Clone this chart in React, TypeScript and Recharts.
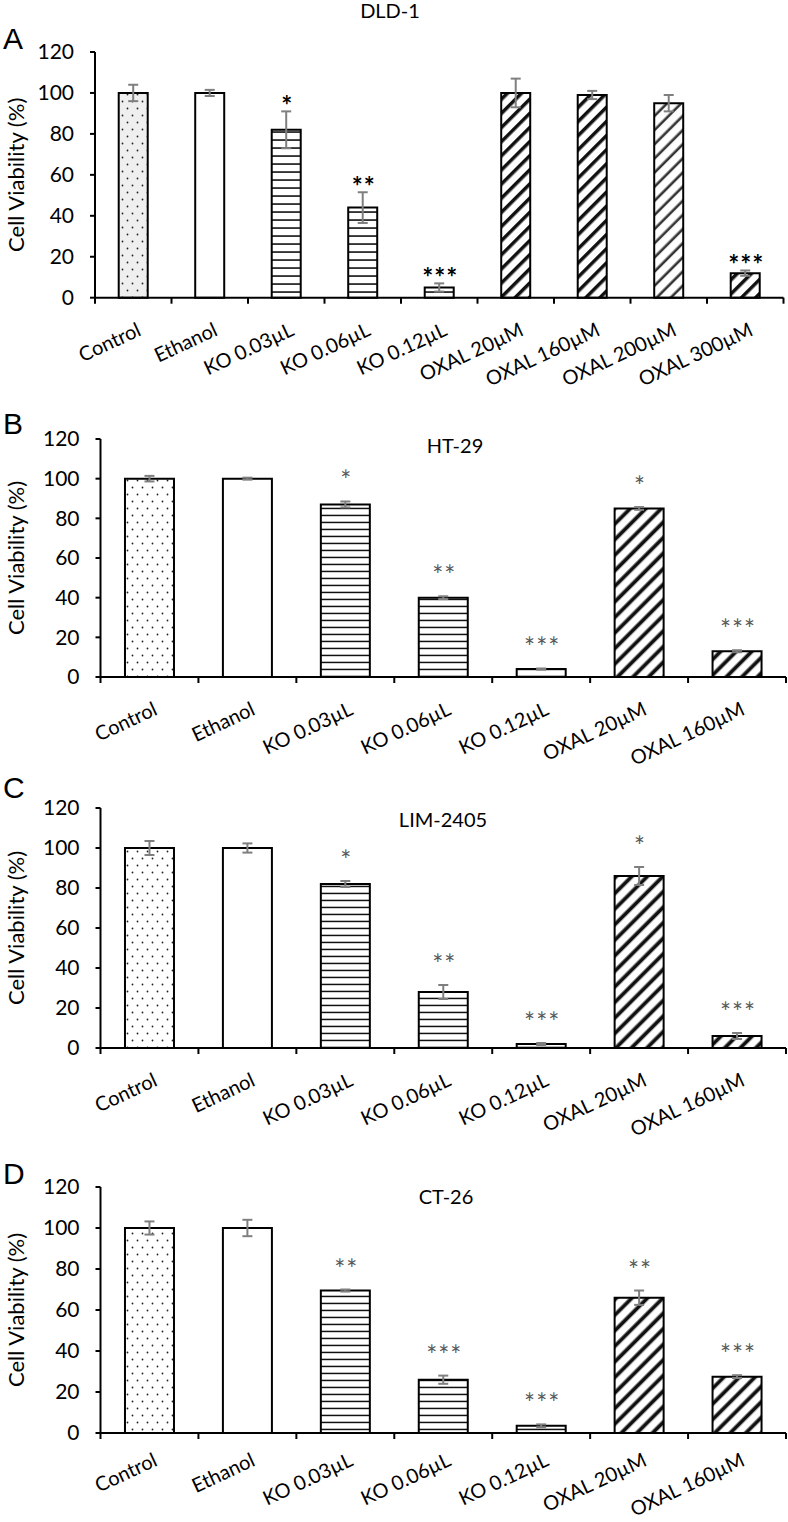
import React from 'react';
import { BarChart, Bar, XAxis, YAxis, ErrorBar, Cell, LabelList } from 'recharts';

const labelsA = ['Control', 'Ethanol', 'KO 0.03µL', 'KO 0.06µL', 'KO 0.12µL', 'OXAL 20µM', 'OXAL 160µM', 'OXAL 200µM', 'OXAL 300µM'];
const labels = ['Control', 'Ethanol', 'KO 0.03µL', 'KO 0.06µL', 'KO 0.12µL', 'OXAL 20µM', 'OXAL 160µM'];
const yTicks = [0, 20, 40, 60, 80, 100, 120];

// DLD-1
const dldValues = [100, 100, 82, 44, 5, 100, 99, 95, 12];
const dldErrors = [4, 1.5, 9, 7.5, 2, 7, 2, 4, 1.3];
const dldSig = ['', '', '*', '**', '***', '', '', '', '***'];

// HT-29
const htValues = [100, 100, 87, 40, 4, 85, 13];
const htErrors = [1.4, 0.5, 1.5, 0.7, 0.3, 0.7, 0.5];
const htSig = ['', '', '*', '**', '***', '*', '***'];

// LIM-2405
const limValues = [100, 100, 82, 28, 2, 86, 6];
const limErrors = [3.5, 2.3, 1.5, 3.5, 0.5, 4.5, 1.5];
const limSig = ['', '', '*', '**', '***', '*', '***'];

// CT-26
const ctValues = [100, 100, 69.5, 26, 3.5, 66, 27.5];
const ctErrors = [3.2, 4, 0.5, 2, 0.7, 3.5, 0.7];
const ctSig = ['', '', '**', '***', '***', '**', '***'];

const fillsA = ['dotsGray', 'plain', 'hlinesA', 'hlinesA', 'hlinesA', 'diagA', 'diagA', 'diagLight', 'diagA'];
const fills = ['dots', 'plain', 'hlines', 'hlines', 'hlines', 'diag', 'diag'];

const FONT = 'Lato, "Open Sans", sans-serif';
const W = 788;

const Patterns = () => (
  <svg width={0} height={0} style={{ position: 'absolute' }}>
    <defs>
      <pattern id="dots" width={10} height={14} patternUnits="userSpaceOnUse">
        <rect width={10} height={14} fill="#fff" />
        <circle cx={2.5} cy={3.5} r={0.9} fill="#222" />
        <circle cx={7.5} cy={10.5} r={0.9} fill="#222" />
      </pattern>
      <pattern id="dotsGray" width={10} height={14} patternUnits="userSpaceOnUse">
        <rect width={10} height={14} fill="#efefef" />
        <circle cx={2.5} cy={3.5} r={0.9} fill="#222" />
        <circle cx={7.5} cy={10.5} r={0.9} fill="#222" />
      </pattern>
      <pattern id="hlinesA" width={8} height={8} patternUnits="userSpaceOnUse">
        <rect width={8} height={8} fill="#fff" />
        <rect y={3.25} width={8} height={1.6} fill="#111" />
      </pattern>
      <pattern id="hlines" width={7} height={7} patternUnits="userSpaceOnUse">
        <rect width={7} height={7} fill="#fff" />
        <rect y={2.7} width={7} height={1.5} fill="#111" />
      </pattern>
      <pattern id="diagA" width={10} height={10} patternUnits="userSpaceOnUse" patternTransform="rotate(45)">
        <rect width={10} height={10} fill="#fff" />
        <rect x={3} width={3.5} height={10} fill="#111" />
      </pattern>
      <pattern id="diagLight" width={10} height={10} patternUnits="userSpaceOnUse" patternTransform="rotate(45)">
        <rect width={10} height={10} fill="#fff" />
        <rect x={3.5} width={2.6} height={10} fill="#333" />
      </pattern>
      <pattern id="diag" width={11} height={11} patternUnits="userSpaceOnUse" patternTransform="rotate(45)">
        <rect width={11} height={11} fill="#fff" />
        <rect x={3.5} width={3.8} height={11} fill="#111" />
      </pattern>
    </defs>
  </svg>
);

type PanelProps = {
  top: number;
  height: number;
  plotTop: number;
  plotBottom: number;
  left: number;
  right: number;
  labelDy: number;
  categories: string[];
  values: number[];
  errors: number[];
  sig: string[];
  fills: string[];
  gap: string;
  starGap: number;
  starColor: string;
  starWeight: number;
};

const Panel = (p: PanelProps) => {
  const data = p.categories.map((name, i) => ({ name, v: p.values[i], e: p.errors[i], sig: p.sig[i] }));
  const plotH = p.plotBottom - p.plotTop;
  const ppu = plotH / 120;
  const bandW = (p.right - p.left) / p.categories.length;
  const n = p.categories.length;

  const XTick = (props: any) => {
    const { x, y, payload, index } = props;
    const ax = x + 9;
    const ay = y + p.labelDy;
    return (
      <g>
        <line x1={x - bandW / 2} y1={y} x2={x - bandW / 2} y2={y + 6} stroke="#000" strokeWidth={2} />
        {index === n - 1 && (
          <line x1={x + bandW / 2} y1={y} x2={x + bandW / 2} y2={y + 6} stroke="#000" strokeWidth={2} />
        )}
        <text x={ax} y={ay} textAnchor="end" transform={`rotate(-25, ${ax}, ${ay})`}
          fontFamily={FONT} fontSize={20} fill="#000">
          {payload.value}
        </text>
      </g>
    );
  };

  const Stars = (props: any) => {
    const { index, value } = props;
    if (!value) return null;
    const vb = props.viewBox || props;
    const cx = vb.x + vb.width / 2;
    const by = vb.y - p.errors[index] * ppu - p.starGap;
    return (
      <text x={cx + 1} y={by} textAnchor="middle" fontFamily={FONT} fontSize={26}
        fontWeight={p.starWeight} fill={p.starColor} letterSpacing={1}>
        {value}
      </text>
    );
  };

  const YLabel = () => (
    <text transform={`translate(15, ${p.plotTop - p.top + plotH / 2}) rotate(-90)`}
      textAnchor="middle" dominantBaseline="central" fontFamily={FONT} fontSize={22} fill="#000">
      Cell Viability (%)
    </text>
  );

  return (
    <div style={{ position: 'absolute', left: 0, top: p.top }}>
      <BarChart
        width={W}
        height={p.height}
        data={data}
        margin={{ top: p.plotTop - p.top, right: W - p.right, left: 0, bottom: 0 }}
        barCategoryGap={p.gap}
      >
        <XAxis
          dataKey="name"
          height={p.top + p.height - p.plotBottom}
          tick={<XTick />}
          tickLine={false}
          tickSize={0}
          tickMargin={0}
          interval={0}
          axisLine={{ stroke: '#000', strokeWidth: 2 }}
        />
        <YAxis
          width={p.left}
          domain={[0, 120]}
          ticks={yTicks}
          interval={0}
          tickSize={5}
          tickMargin={16}
          tick={{ fontFamily: FONT, fontSize: 21, fill: '#000' }}
          tickLine={{ stroke: '#000', strokeWidth: 2 }}
          axisLine={{ stroke: '#000', strokeWidth: 2 }}
          label={{ content: <YLabel /> }}
        />
        <Bar dataKey="v" stroke="#000" strokeWidth={2} isAnimationActive={false}>
          {data.map((d, i) => (
            <Cell key={d.name} fill={p.fills[i] === 'plain' ? '#fff' : `url(#${p.fills[i]})`} />
          ))}
          <ErrorBar dataKey="e" width={5} stroke="#7f7f7f" strokeWidth={2} direction="y" />
          <LabelList dataKey="sig" content={<Stars />} />
        </Bar>
      </BarChart>
    </div>
  );
};

const Title = ({ x, y, text }: { x: number; y: number; text: string }) => (
  <div style={{ position: 'absolute', left: x, top: y, transform: 'translate(-50%, -50%)', fontFamily: FONT, fontSize: 20, whiteSpace: 'nowrap', lineHeight: 1 }}>
    {text}
  </div>
);

const Letter = ({ y, text }: { y: number; text: string }) => (
  <div style={{ position: 'absolute', left: 3, top: y, transform: 'translateY(-50%)', fontFamily: '"Liberation Sans", Arial, sans-serif', fontSize: 30, lineHeight: 1 }}>
    {text}
  </div>
);

const App = () => {
  return (
    <div style={{ position: 'absolute', left: 0, top: 0, width: W, height: 1522, background: '#fff' }}>
      <Patterns />
      <Panel top={0} height={400} plotTop={52} plotBottom={297.7} left={95} right={783.5} labelDy={37}
        categories={labelsA} values={dldValues} errors={dldErrors} sig={dldSig} fills={fillsA}
        gap="31%" starGap={-4} starColor="#000" starWeight={700} />
      <Panel top={400} height={385} plotTop={439} plotBottom={677} left={100.5} right={786} labelDy={37}
        categories={labels} values={htValues} errors={htErrors} sig={htSig} fills={fills}
        gap="25%" starGap={11} starColor="#595959" starWeight={400} />
      <Panel top={785} height={375} plotTop={808} plotBottom={1048} left={100.5} right={786} labelDy={37}
        categories={labels} values={limValues} errors={limErrors} sig={limSig} fills={fills}
        gap="25%" starGap={11} starColor="#595959" starWeight={400} />
      <Panel top={1160} height={362} plotTop={1187} plotBottom={1433} left={100.5} right={786} labelDy={32}
        categories={labels} values={ctValues} errors={ctErrors} sig={ctSig} fills={fills}
        gap="25%" starGap={11} starColor="#595959" starWeight={400} />
      <Title x={390} y={10} text="DLD-1" />
      <Title x={455} y={445} text="HT-29" />
      <Title x={443} y={819} text="LIM-2405" />
      <Title x={446} y={1196} text="CT-26" />
      <Letter y={39} text="A" />
      <Letter y={424} text="B" />
      <Letter y={788} text="C" />
      <Letter y={1174} text="D" />
    </div>
  );
};

export default App;
